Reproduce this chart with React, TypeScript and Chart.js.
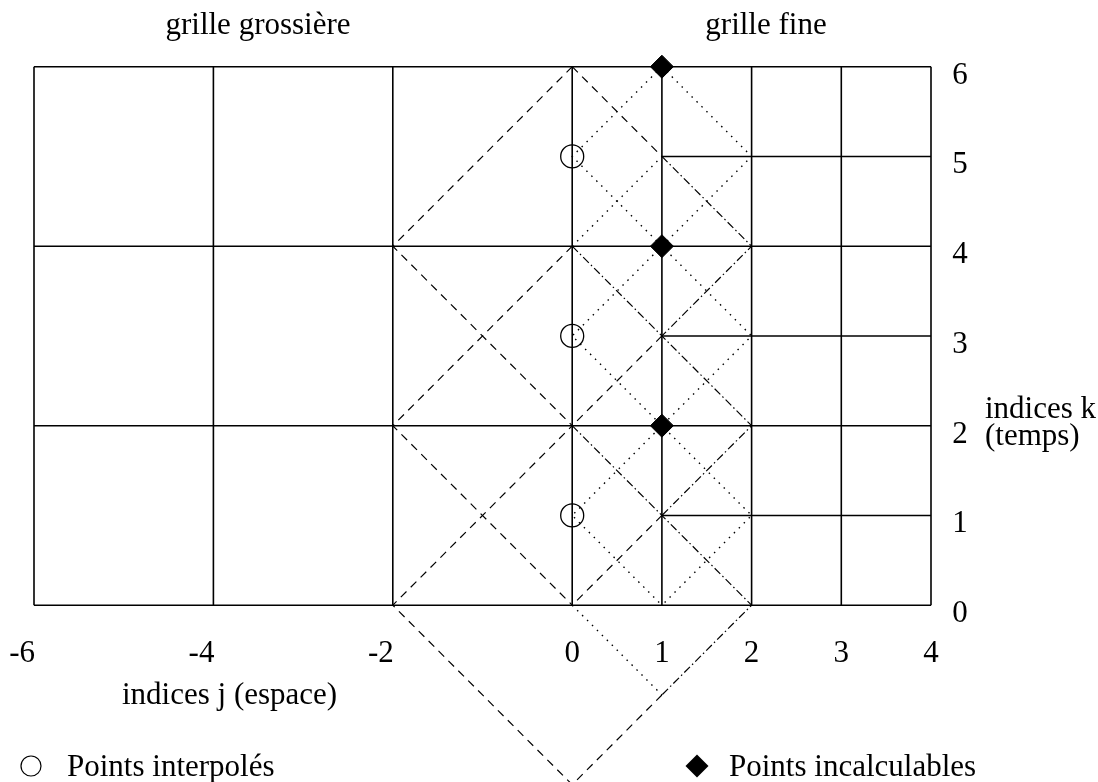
import React, { useEffect, useRef } from 'react';
import { Chart, registerables } from 'chart.js';

Chart.register(...registerables);

// Axis ranges (indices j = space, indices k = time)
const jMin = -6;
const jMax = 4;
const kMin = -2;
const kMax = 6;

// Grid
const coarseRows = [0, 2, 4, 6]; // k rows spanning the whole width
const fineRows = [1, 3, 5]; // k rows of the fine grid (j from 1 to 4)
const fineRowStart = 1;
const gridColumns = [-6, -4, -2, 0, 1, 2, 3, 4];

// Tick labels
const jTicks = [-6, -4, -2, 0, 1, 2, 3, 4];
const jTickLabels = ['-6', '-4', '-2', '0', '1', '2', '3', '4'];
const kTicks = [0, 1, 2, 3, 4, 5, 6];
const kTickLabels = ['0', '1', '2', '3', '4', '5', '6'];

// Characteristic lines (polylines of [j, k])
const dashedPaths: number[][][] = [
  [[0, 6], [-2, 4], [0, 2], [-2, 0], [0, -2], [1, -1]],
  [[0, 4], [-2, 2], [0, 0]],
  [[0, 6], [1, 5]],
  [[1, 3], [0, 2]],
  [[1, 1], [0, 0]],
];
const dashDotPaths: number[][][] = [
  [[1, 5], [2, 4], [1, 3]],
  [[0, 4], [2, 2], [1, 1]],
  [[0, 2], [2, 0], [1, -1]],
];
const dottedPaths: number[][][] = [
  [[1, 6], [0, 5], [1, 4], [0, 3], [1, 2], [0, 1], [1, 0]],
  [[1, 6], [2, 5], [1, 4], [2, 3], [1, 2], [2, 1], [1, 0]],
  [[0, 4], [1, 5]],
  [[0, 0], [1, -1]],
];

// Special points
const interpolatedPoints = [[0, 1], [0, 3], [0, 5]];
const incalculablePoints = [[1, 2], [1, 4], [1, 6]];

// Texts
const coarseTitle = 'grille grossière';
const fineTitle = 'grille fine';
const jAxisTitle = 'indices j (espace)';
const kAxisTitle = ['indices k', '(temps)'];
const legendInterpolated = 'Points interpolés';
const legendIncalculable = 'Points incalculables';

const FONT = '31px "Liberation Serif", "Times New Roman", serif';

function toXY(path: number[][]) {
  return path.map(([x, y]) => ({ x, y }));
}

function lineDataset(path: number[][], dash: number[], width: number) {
  return {
    data: toXY(path),
    showLine: true,
    borderColor: '#000',
    borderWidth: width,
    borderDash: dash,
    pointRadius: 0,
    pointHoverRadius: 0,
    fill: false,
    tension: 0,
    order: 2,
    clip: false as any,
  };
}

const textPlugin = {
  id: 'figureTexts',
  afterDraw(chart: any) {
    const { ctx } = chart;
    const xs = chart.scales.x;
    const ys = chart.scales.y;
    ctx.save();
    ctx.fillStyle = '#000';
    ctx.strokeStyle = '#000';
    ctx.font = FONT;
    ctx.textBaseline = 'alphabetic';

    const y0 = ys.getPixelForValue(0);
    // j tick labels
    jTicks.forEach((j, i) => {
      const px = xs.getPixelForValue(j);
      if (j < 0) {
        ctx.textAlign = 'right';
        ctx.fillText(jTickLabels[i], px + 1, y0 + 57);
      } else {
        ctx.textAlign = 'center';
        ctx.fillText(jTickLabels[i], px, y0 + 57);
      }
    });
    // k tick labels
    const xr = xs.getPixelForValue(jMax);
    ctx.textAlign = 'center';
    kTicks.forEach((k, i) => {
      ctx.fillText(kTickLabels[i], xr + 29, ys.getPixelForValue(k) + 17);
    });
    // k axis title
    ctx.textAlign = 'left';
    const y2 = ys.getPixelForValue(2);
    ctx.fillText(kAxisTitle[0], xr + 54, y2 - 8);
    ctx.fillText(kAxisTitle[1], xr + 54, y2 + 19);
    // j axis title
    ctx.fillText(jAxisTitle, 122, y0 + 99);
    // headers
    ctx.textAlign = 'center';
    ctx.fillText(coarseTitle, 258, 34);
    ctx.fillText(fineTitle, 766, 34);
    // legend
    const ly = 766;
    ctx.lineWidth = 1.2;
    ctx.beginPath();
    ctx.arc(31, ly, 10, 0, Math.PI * 2);
    ctx.stroke();
    ctx.textAlign = 'left';
    ctx.fillText(legendInterpolated, 67, ly + 10);
    ctx.beginPath();
    ctx.moveTo(697 - 11.5, ly);
    ctx.lineTo(697, ly - 11.5);
    ctx.lineTo(697 + 11.5, ly);
    ctx.lineTo(697, ly + 11.5);
    ctx.closePath();
    ctx.fill();
    ctx.fillText(legendIncalculable, 729, ly + 10);
    ctx.restore();
  },
};

export default function App() {
  const canvasRef = useRef<HTMLCanvasElement | null>(null);

  useEffect(() => {
    const canvas = canvasRef.current;
    if (!canvas) return;

    const datasets: any[] = [];

    // markers on top
    datasets.push({
      data: toXY(interpolatedPoints),
      showLine: false,
      pointStyle: 'circle',
      pointRadius: 11.5,
      pointBackgroundColor: 'rgba(0,0,0,0)',
      pointBorderColor: '#000',
      pointBorderWidth: 1.3,
      order: 0,
      clip: false,
    });
    datasets.push({
      data: toXY(incalculablePoints),
      showLine: false,
      pointStyle: 'rectRot',
      pointRadius: 11.5,
      pointBackgroundColor: '#000',
      pointBorderColor: '#000',
      pointBorderWidth: 1,
      order: 0,
      clip: false,
    });

    // solid grid
    coarseRows.forEach((k) => datasets.push(lineDataset([[jMin, k], [jMax, k]], [], 1.6)));
    fineRows.forEach((k) => datasets.push(lineDataset([[fineRowStart, k], [jMax, k]], [], 1.6)));
    gridColumns.forEach((j) => datasets.push(lineDataset([[j, 0], [j, kMax]], [], 1.6)));

    dashedPaths.forEach((p) => datasets.push(lineDataset(p, [8, 6], 1.2)));
    dashDotPaths.forEach((p) => datasets.push(lineDataset(p, [8, 3, 1.5, 3], 1.2)));
    dottedPaths.forEach((p) => datasets.push(lineDataset(p, [1.5, 5.5], 1.4)));

    const chart = new Chart(canvas, {
      type: 'scatter',
      data: { datasets },
      options: {
        animation: false,
        responsive: false,
        devicePixelRatio: 1,
        events: [],
        layout: { padding: { left: 34, right: 167, top: 66.7, bottom: 15.3 } },
        plugins: { legend: { display: false }, tooltip: { enabled: false }, title: { display: false } },
        scales: {
          x: { type: 'linear', min: jMin, max: jMax, display: false },
          y: { type: 'linear', min: kMin, max: kMax, display: false },
        },
      },
      plugins: [textPlugin],
    });

    return () => chart.destroy();
  }, []);

  return (
    <div
      style={{
        position: 'fixed',
        left: 0,
        top: 0,
        width: 1098,
        height: 782,
        overflow: 'hidden',
        background: '#fff',
      }}
    >
      <canvas ref={canvasRef} width={1098} height={800} style={{ display: 'block', width: 1098, height: 800 }} />
    </div>
  );
}
